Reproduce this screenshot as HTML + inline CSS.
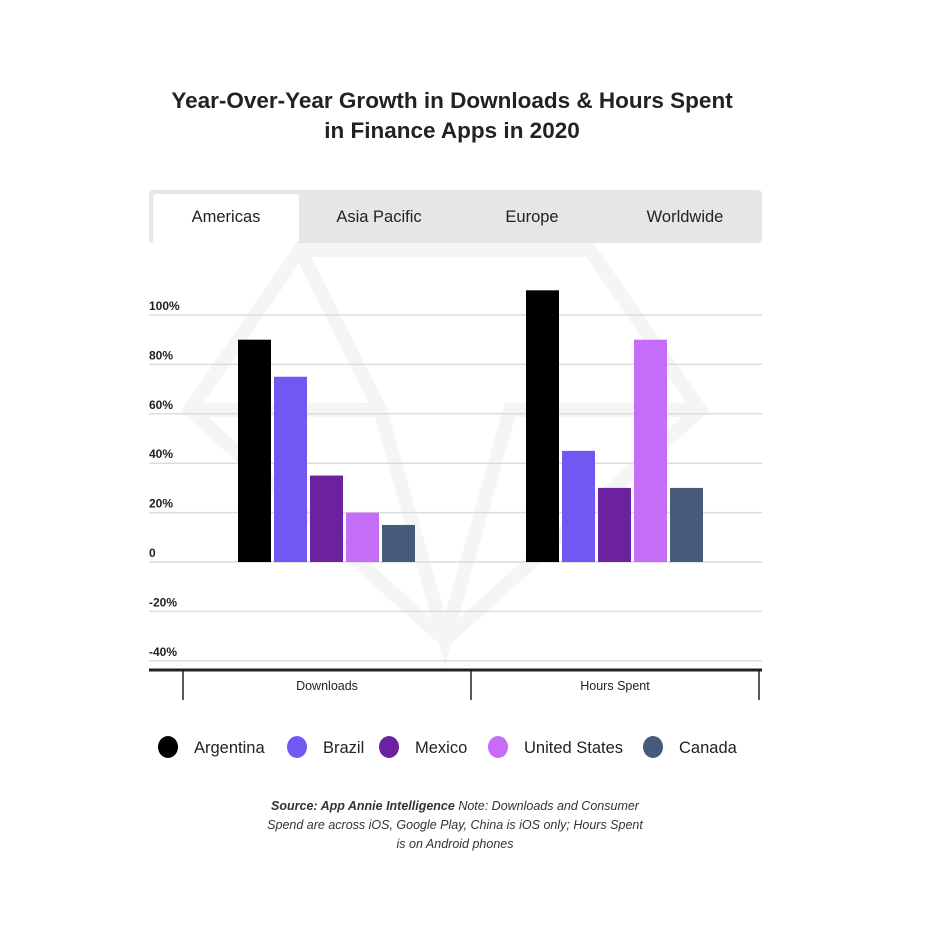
<!DOCTYPE html>
<html><head><meta charset="utf-8"><style>
html,body{margin:0;padding:0;background:#fff;}
svg{display:block;font-family:"Liberation Sans",sans-serif;}
</style></head><body>
<svg id="chart" width="945" height="938" viewBox="0 0 945 938">
<text x="452" y="108" text-anchor="middle" font-size="22.5" font-weight="bold" fill="#222">Year-Over-Year Growth in Downloads &amp; Hours Spent</text>
<text x="452" y="138" text-anchor="middle" font-size="22.5" font-weight="bold" fill="#222">in Finance Apps in 2020</text>
<g fill="none" stroke="#f5f5f5" stroke-width="14">
<polygon points="300,250 590,250 700,410 445,640 190,410"/>
<polyline points="190,410 380,410 445,640 510,410 700,410"/>
<polyline points="380,410 300,250 M510,410 590,250"/>
</g>
<g>
<rect x="149" y="190" width="613" height="53" rx="4" fill="#e6e6e6"/>
<rect x="153" y="194" width="146" height="49" rx="3" fill="#fff"/>
<text x="226" y="222" text-anchor="middle" font-size="16.5" fill="#222">Americas</text>
<text x="379" y="222" text-anchor="middle" font-size="16.5" fill="#222">Asia Pacific</text>
<text x="532" y="222" text-anchor="middle" font-size="16.5" fill="#222">Europe</text>
<text x="685" y="222" text-anchor="middle" font-size="16.5" fill="#222">Worldwide</text>
</g>
<g id="grid"></g>
<g id="bars"></g>
<g>
<line x1="149" y1="670" x2="762" y2="670" stroke="#222" stroke-width="3"/>
<line x1="183" y1="670" x2="183" y2="700" stroke="#222" stroke-width="1.5"/>
<line x1="471" y1="670" x2="471" y2="700" stroke="#222" stroke-width="1.5"/>
<line x1="759" y1="670" x2="759" y2="700" stroke="#222" stroke-width="1.5"/>
</g>
<g id="xlabels"></g>
<g id="legend"></g>
<g font-size="12.5" font-style="italic" fill="#333" text-anchor="middle">
<text x="455" y="810"><tspan font-weight="bold">Source: App Annie Intelligence</tspan> Note: Downloads and Consumer</text>
<text x="455" y="829">Spend are across iOS, Google Play, China is iOS only; Hours Spent</text>
<text x="455" y="848">is on Android phones</text>
</g>
</svg>
<script>
const categories = ["Downloads", "Hours Spent"];
const seriesNames = ["Argentina", "Brazil", "Mexico", "United States", "Canada"];
const argentina = [90, 110];
const brazil = [75, 45];
const mexico = [35, 30];
const unitedStates = [20, 90];
const canada = [15, 30];
const tickValues = [100, 80, 60, 40, 20, 0, -20, -40];
const tickLabels = ["100%", "80%", "60%", "40%", "20%", "0", "-20%", "-40%"];
const colors = ["#000000", "#7158f2", "#6b21a0", "#c56cf8", "#475a7a"];

const NS = "http://www.w3.org/2000/svg";
const series = [argentina, brazil, mexico, unitedStates, canada];
function y(v){ return 562 - v * 2.47; }
const groupStart = [238, 526];
const barW = 33, barStep = 36;
function mk(tag, attrs, parent){ const e=document.createElementNS(NS,tag); for(const k in attrs) e.setAttribute(k,attrs[k]); parent.appendChild(e); return e; }

const grid = document.getElementById("grid");
tickValues.forEach((v,i)=>{
  const l = mk("line",{x1:149,x2:762,y1:y(v),y2:y(v),stroke:"#dcdcdc","stroke-width":1.5},grid);
  
  
  const t = mk("text",{x:149,y:y(v)-5,"font-size":12,"font-weight":"bold",fill:"#222"},grid);
  t.textContent = tickLabels[i];
  
  
});

const bars = document.getElementById("bars");
categories.forEach((c,ci)=>{
  series.forEach((s,si)=>{
    const v = s[ci];
    const r = mk("rect",{x:groupStart[ci]+si*barStep,y:Math.min(y(v),y(0)),width:barW,height:Math.abs(y(v)-y(0)),fill:colors[si]},bars);
    
    
  });
});

const xl = document.getElementById("xlabels");
const catX = [327, 615];
categories.forEach((c,i)=>{
  const t = mk("text",{x:catX[i],y:690,"text-anchor":"middle","font-size":12.5,fill:"#222"},xl);
  t.textContent = c;
  
  
});

const lg = document.getElementById("legend");
const legCircle = [168, 297, 389, 498, 653];
seriesNames.forEach((n,i)=>{
  const c = mk("ellipse",{cx:legCircle[i],cy:747,rx:10,ry:11,fill:colors[i]},lg);
  
  
  const t = mk("text",{x:legCircle[i]+26,y:753,"font-size":16.5,fill:"#222"},lg);
  t.textContent = n;
  
  
});
</script>
</body></html>
